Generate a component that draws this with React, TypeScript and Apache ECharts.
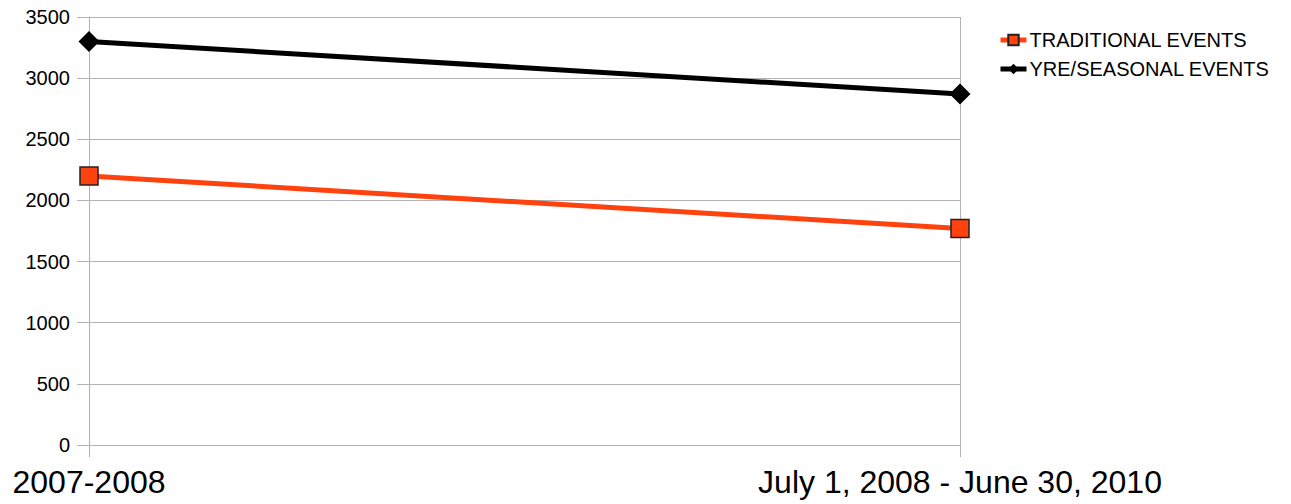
import React, { useEffect, useRef } from "react";
import * as echarts from "echarts";

const categories = ["2007-2008", "July 1, 2008 - June 30, 2010"];
const traditional = [2200, 1770];
const seasonal = [3300, 2870];
const seriesNames = ["TRADITIONAL EVENTS", "YRE/SEASONAL EVENTS"];

export default function App() {
  const ref = useRef<HTMLDivElement>(null);
  useEffect(() => {
    const chart = echarts.init(ref.current!, null, { renderer: "svg" });
    const font = "'Liberation Sans', Arial, sans-serif";
    const gridColor = "#b3b3b3";
    chart.setOption({
      animation: false,
      textStyle: { fontFamily: font },
      grid: { left: 89, right: 331, top: 17, bottom: 59, containLabel: false },
      legend: {
        left: 993,
        top: 25,
        orient: "vertical",
        itemWidth: 26,
        itemHeight: 13,
        itemGap: 9,
        lineStyle: { width: 5 },
        textStyle: { fontSize: 20, color: "#000", fontFamily: font, padding: [0, 0, 0, -2] },
        data: seriesNames,
      },
      xAxis: {
        type: "category",
        data: categories,
        boundaryGap: false,
        axisLine: { show: true, lineStyle: { color: gridColor, width: 1 } },
        axisTick: { show: true, length: 12, lineStyle: { color: gridColor } },
        splitLine: { show: true, lineStyle: { color: gridColor, width: 1 } },
        axisLabel: { fontSize: 32, color: "#000", margin: 21, fontFamily: font },
      },
      yAxis: {
        type: "value",
        min: 0,
        max: 3500,
        interval: 500,
        axisLine: { show: true, lineStyle: { color: gridColor, width: 1 } },
        axisTick: { show: true, length: 12, lineStyle: { color: gridColor } },
        splitLine: { show: true, lineStyle: { color: gridColor, width: 1 } },
        axisLabel: { fontSize: 20, color: "#000", margin: 19, fontFamily: font, formatter: (v: number) => String(v) },
      },
      series: [
        {
          name: seriesNames[0],
          type: "line",
          data: traditional,
          symbol: "rect",
          symbolSize: 18,
          lineStyle: { color: "#ff420e", width: 5 },
          itemStyle: { color: "#ff420e", borderColor: "#222", borderWidth: 1.5 },
        },
        {
          name: seriesNames[1],
          type: "line",
          data: seasonal,
          symbol: "diamond",
          symbolSize: 21,
          lineStyle: { color: "#000", width: 5 },
          itemStyle: { color: "#000" },
        },
      ],
    });
    return () => chart.dispose();
  }, []);
  return <div ref={ref} style={{ position: "absolute", left: 0, top: 0, width: 1291, height: 504 }} />;
}
